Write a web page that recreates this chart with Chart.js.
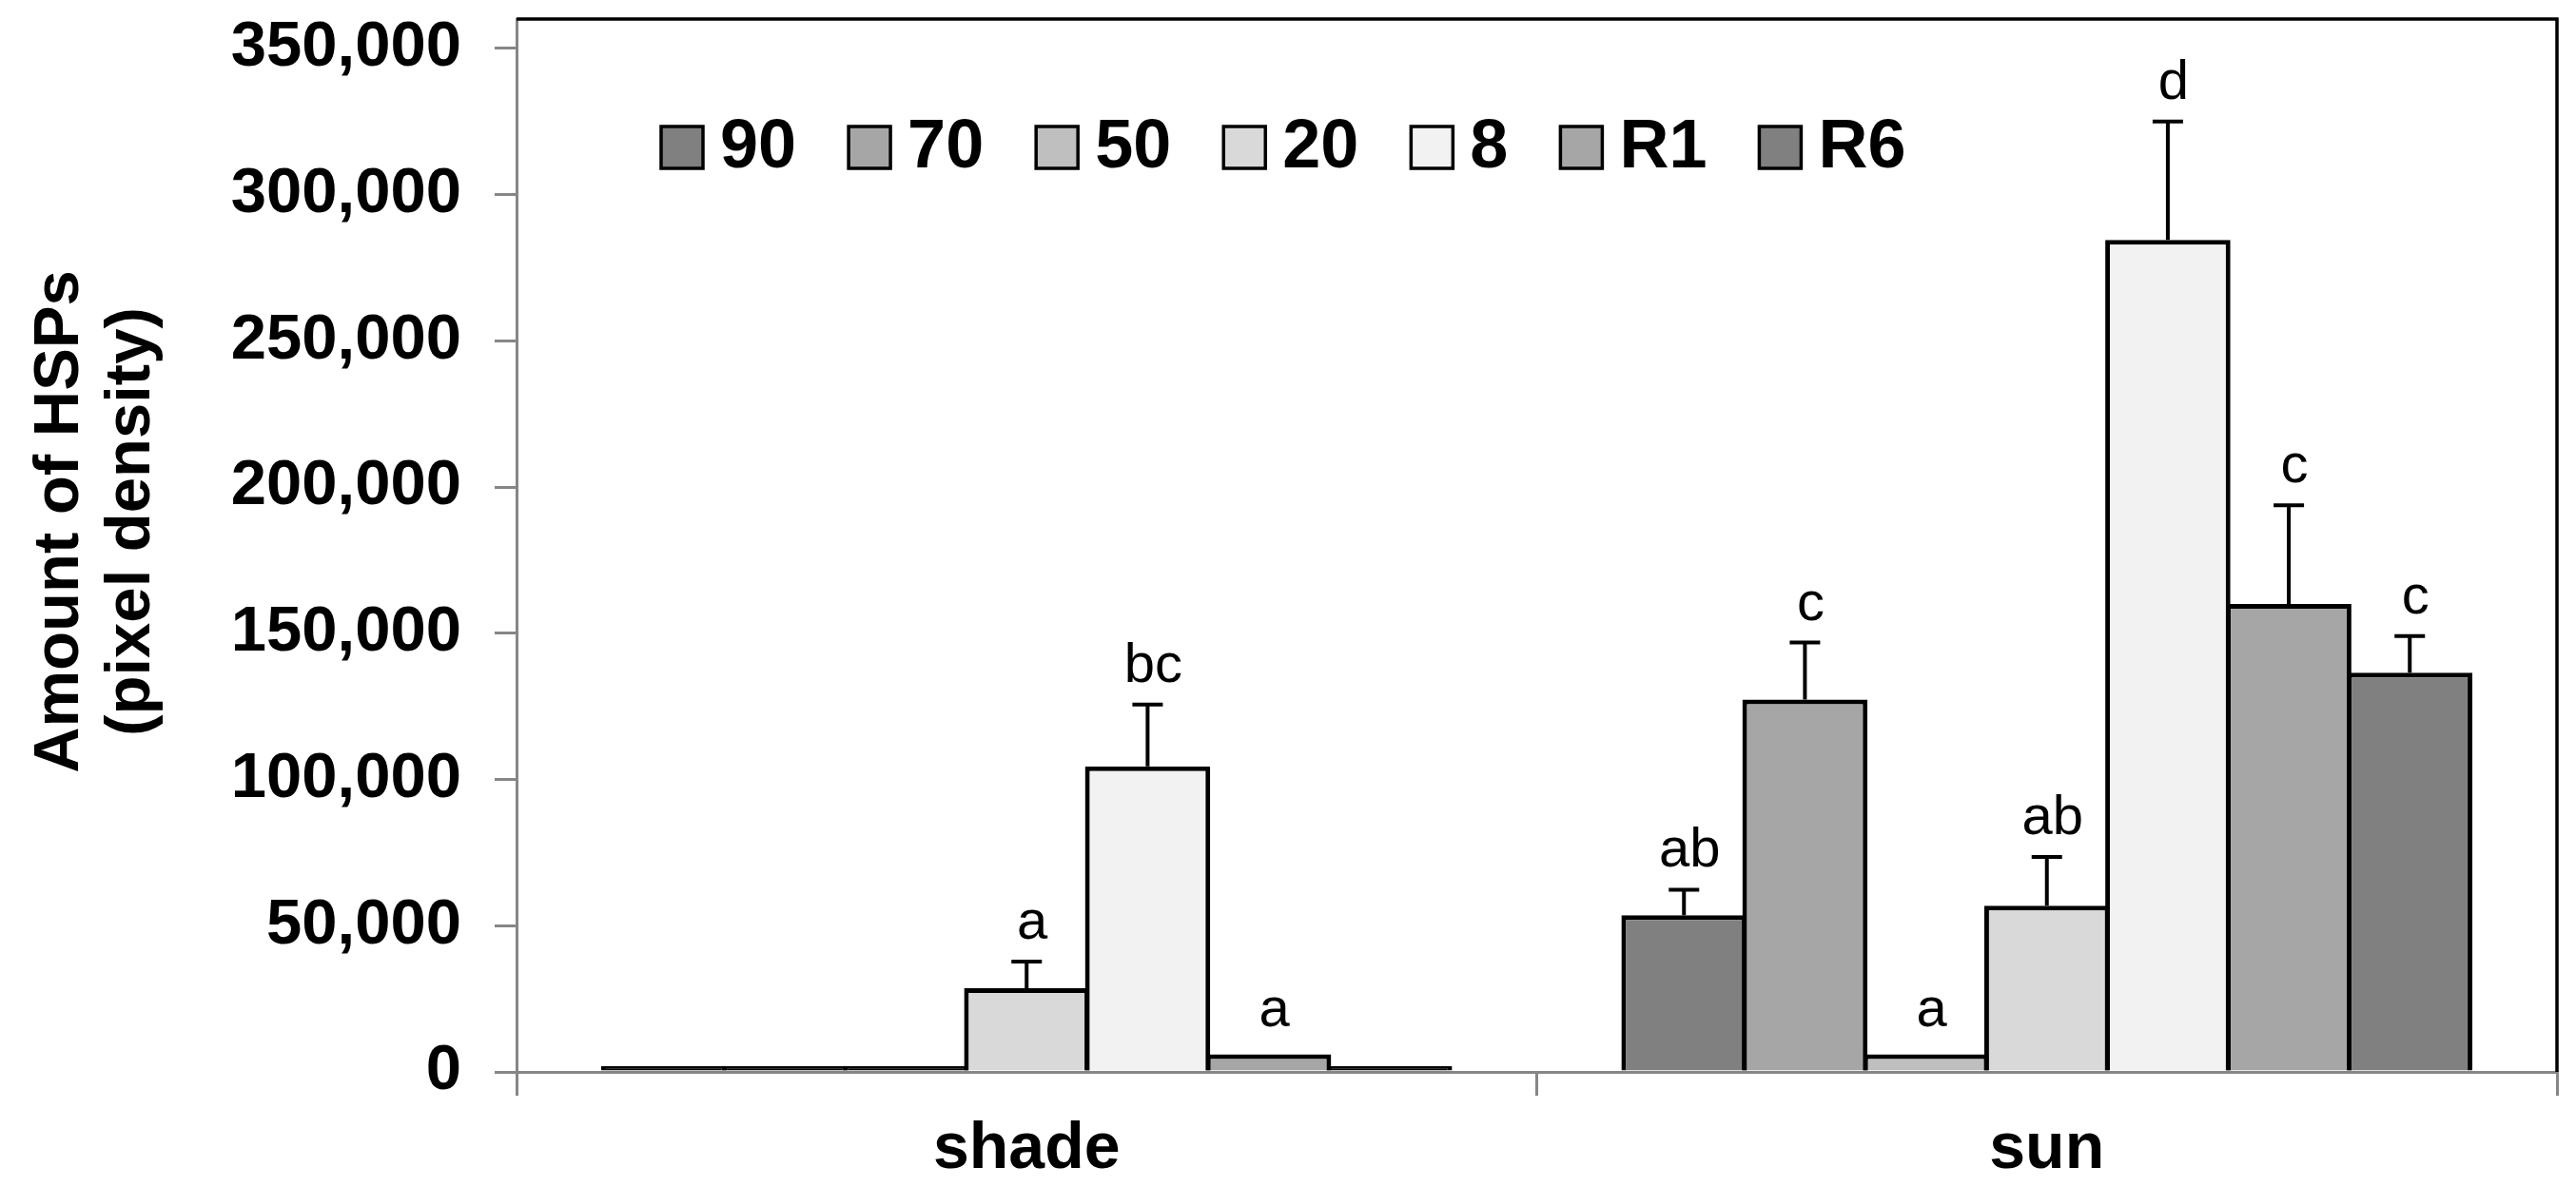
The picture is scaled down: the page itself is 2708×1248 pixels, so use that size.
<!DOCTYPE html>
<html><head><meta charset="utf-8">
<script src="https://cdn.jsdelivr.net/npm/chart.js@4.4.1/dist/chart.umd.min.js"></script>
<style>html,body{margin:0;padding:0;background:#fff}canvas{display:block}</style>
</head><body>
<canvas id="c" width="2708" height="1248"></canvas>
<script>
// ---- data ----
const categories = ['shade', 'sun'];
const seriesNames = ['90', '70', '50', '20', '8', 'R1', 'R6'];
const seriesColors = ['#808080', '#a6a6a6', '#bfbfbf', '#d9d9d9', '#f2f2f2', '#a6a6a6', '#808080'];

const values90 = [2000, 53600];
const values70 = [2000, 127300];
const values50 = [2000, 6000];
const values20 = [28600, 56800];
const values8  = [104500, 284500];
const valuesR1 = [6000, 160000];
const valuesR6 = [2000, 136500];

const errors90 = [0, 8700];
const errors70 = [0, 19500];
const errors50 = [0, 0];
const errors20 = [9100, 16700];
const errors8  = [21100, 40500];
const errorsR1 = [0, 33700];
const errorsR6 = [0, 12500];

const letters90 = ['', 'ab'];
const letters70 = ['', 'c'];
const letters50 = ['', 'a'];
const letters20 = ['a', 'ab'];
const letters8  = ['bc', 'd'];
const lettersR1 = ['a', 'c'];
const lettersR6 = ['', 'c'];

const yTickValues = [0, 50000, 100000, 150000, 200000, 250000, 300000, 350000];
const yTitle = ['Amount of HSPs', '(pixel density)'];

const allValues = [values90, values70, values50, values20, values8, valuesR1, valuesR6];
const allErrors = [errors90, errors70, errors50, errors20, errors8, errorsR1, errorsR6];
const allLetters = [letters90, letters70, letters50, letters20, letters8, lettersR1, lettersR6];

const FONT = '"Liberation Sans", Arial, Helvetica, sans-serif';

const datasets = seriesNames.map((name, i) => ({
  label: name,
  data: allValues[i],
  err: allErrors[i],
  letters: allLetters[i],
  legendColor: seriesColors[i],
  // near-zero bars are entirely covered by their outline, as in the original
  backgroundColor: c => (c.raw !== undefined && c.raw < 3000) ? '#000' : seriesColors[i],
  borderColor: '#000',
  borderWidth: 5,
  borderSkipped: 'start',
  categoryPercentage: 0.83,
  barPercentage: 1.035
}));

const errorBarPlugin = {
  id: 'errorBars',
  afterDatasetsDraw(chart) {
    const ctx = chart.ctx, ys = chart.scales.y;
    chart.data.datasets.forEach((ds, i) => {
      const meta = chart.getDatasetMeta(i);
      meta.data.forEach((bar, j) => {
        const v = ds.data[j], e = ds.err[j];
        let topPx = bar.y;
        let gap = 30;
        ctx.save();
        if (e > 0) {
          const ey = ys.getPixelForValue(v + e);
          ctx.strokeStyle = '#000';
          ctx.lineWidth = 4;
          ctx.beginPath();
          ctx.moveTo(bar.x, bar.y);
          ctx.lineTo(bar.x, ey);
          ctx.moveTo(bar.x - 16, ey);
          ctx.lineTo(bar.x + 16, ey);
          ctx.stroke();
          topPx = ey;
          gap = 24;
        }
        if (ds.letters[j]) {
          ctx.fillStyle = '#000';
          ctx.font = '58px ' + FONT;
          ctx.textAlign = 'center';
          ctx.textBaseline = 'alphabetic';
          ctx.fillText(ds.letters[j], bar.x + 6, topPx - gap);
        }
        ctx.restore();
      });
    });
  }
};

const framePlugin = {
  id: 'frame',
  afterDraw(chart) {
    const ctx = chart.ctx;
    const {left, right, top, bottom} = chart.chartArea;
    ctx.save();
    ctx.strokeStyle = '#000';
    ctx.lineWidth = 3.5;
    ctx.beginPath();
    ctx.moveTo(left, top);
    ctx.lineTo(right, top);
    ctx.lineTo(right, bottom);
    ctx.stroke();
    ctx.restore();
  }
};

const yTitlePlugin = {
  id: 'yTitle',
  afterDraw(chart) {
    const ctx = chart.ctx;
    const {top, bottom} = chart.chartArea;
    const cy = (top + bottom) / 2 - 25;
    ctx.save();
    ctx.fillStyle = '#000';
    ctx.font = 'bold 67px ' + FONT;
    ctx.textAlign = 'center';
    ctx.textBaseline = 'alphabetic';
    const baselines = [82, 157];
    yTitle.forEach((line, k) => {
      ctx.save();
      ctx.translate(baselines[k], cy);
      ctx.rotate(-Math.PI / 2);
      ctx.fillText(line, 0, 0);
      ctx.restore();
    });
    ctx.restore();
  }
};

const legendPlugin = {
  id: 'insideLegend',
  afterDraw(chart) {
    const ctx = chart.ctx;
    const {left, top} = chart.chartArea;
    let x = left + 152;
    const cy = top + 135;
    const box = 44;
    ctx.save();
    ctx.font = 'bold 72px ' + FONT;
    ctx.textBaseline = 'middle';
    ctx.textAlign = 'left';
    chart.data.datasets.forEach(ds => {
      ctx.fillStyle = ds.legendColor;
      ctx.fillRect(x, cy - box / 2, box, box);
      ctx.strokeStyle = '#000';
      ctx.lineWidth = 3.5;
      ctx.strokeRect(x, cy - box / 2, box, box);
      const tx = x + box + 18;
      ctx.fillStyle = '#000';
      ctx.fillText(ds.label, tx, cy + 1);
      x = tx + ctx.measureText(ds.label).width + 55;
    });
    ctx.restore();
  }
};

new Chart(document.getElementById('c'), {
  type: 'bar',
  data: { labels: categories, datasets },
  plugins: [errorBarPlugin, framePlugin, yTitlePlugin, legendPlugin],
  options: {
    responsive: false,
    animation: false,
    layout: { padding: { left: 20, top: 20, right: 20, bottom: 0 } },
    plugins: { legend: { display: false }, tooltip: { enabled: false } },
    scales: {
      x: {
        grid: { display: true, drawOnChartArea: false, drawTicks: true, tickLength: 25, color: '#868686', lineWidth: 3 },
        border: { display: true, color: '#868686', width: 3 },
        ticks: { color: '#000', font: { family: FONT, size: 68, weight: 'bold' }, padding: 16 },
        afterFit(scale) { scale.height = 121; scale.paddingLeft = 0; scale.paddingRight = 0; }
      },
      y: {
        min: 0, max: 360000,
        afterBuildTicks(scale) { scale.ticks = yTickValues.map(v => ({ value: v })); },
        grid: { display: true, drawOnChartArea: false, drawTicks: true, tickLength: 23, color: '#868686', lineWidth: 3 },
        border: { display: true, color: '#868686', width: 3 },
        ticks: {
          color: '#000', padding: 35,
          font: { family: FONT, size: 67, weight: 'bold' },
          callback: v => Number(v).toLocaleString('en-US')
        },
        title: { display: false },
        afterFit(scale) { scale.width = 523; scale.paddingTop = 0; scale.paddingBottom = 0; }
      }
    }
  }
});
</script>
</body></html>
